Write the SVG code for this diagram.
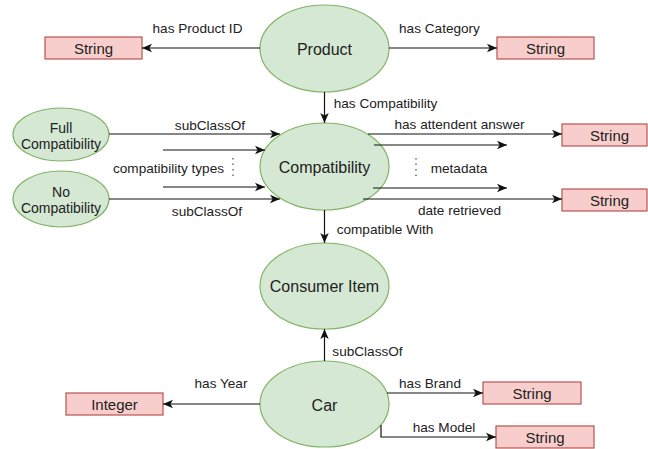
<svg xmlns="http://www.w3.org/2000/svg" width="648" height="449" viewBox="0 0 648 449">
  <style>
    .cls { fill: #d5e8d4; stroke: #82b366; stroke-width: 1.2; }
    .lit { fill: #f8cecc; stroke: #b85450; stroke-width: 1.2; }
    text { font-family: "Liberation Sans", Arial, sans-serif; fill: #222; text-anchor: middle; dominant-baseline: central; }
    .big { font-size: 16px; }
    .box { font-size: 15px; }
    .small { font-size: 14px; }
    .lbl { font-size: 13.6px; }
    .edge { fill: none; stroke: #111; stroke-width: 1.2; }
    .dots { fill: none; stroke: #555; stroke-width: 1.3; stroke-dasharray: 1.5 4; }
  </style>
  <defs>
    <marker id="arrow" markerUnits="userSpaceOnUse" markerWidth="12" markerHeight="10" refX="10" refY="5" orient="auto">
      <path d="M0,0.8 L10,5 L0,9.2 L2.6,5 Z" fill="#111"/>
    </marker>
  </defs>

  <rect width="648" height="449" fill="#fff"/>

  <!-- class nodes -->
  <g id="product">
    <ellipse class="cls" cx="324.5" cy="48.5" rx="64.5" ry="43.5"/>
    <text class="big" x="324.5" y="49">Product</text>
  </g>
  <g id="compatibility">
    <ellipse class="cls" cx="324.5" cy="166.5" rx="64.5" ry="43.5"/>
    <text class="big" x="324.5" y="167">Compatibility</text>
  </g>
  <g id="consumer-item">
    <ellipse class="cls" cx="324.5" cy="286" rx="64.5" ry="43"/>
    <text class="big" x="324.5" y="286">Consumer Item</text>
  </g>
  <g id="car">
    <ellipse class="cls" cx="324.5" cy="404" rx="64.5" ry="43"/>
    <text class="big" x="324.5" y="405">Car</text>
  </g>
  <g id="full-compatibility">
    <ellipse class="cls" cx="61" cy="134.5" rx="48" ry="26.5"/>
    <text class="small" x="61" y="128">Full</text>
    <text class="small" x="61" y="144">Compatibility</text>
  </g>
  <g id="no-compatibility">
    <ellipse class="cls" cx="61" cy="199" rx="48" ry="28"/>
    <text class="small" x="61" y="192">No</text>
    <text class="small" x="61" y="208">Compatibility</text>
  </g>

  <!-- literal nodes -->
  <g id="product-id-string">
    <rect class="lit" x="45" y="37" width="97" height="22"/>
    <text class="box" x="93.5" y="48.5">String</text>
  </g>
  <g id="category-string">
    <rect class="lit" x="497" y="37" width="97" height="22"/>
    <text class="box" x="545.5" y="48.5">String</text>
  </g>
  <g id="answer-string">
    <rect class="lit" x="562" y="124" width="85" height="22"/>
    <text class="box" x="609.5" y="135">String</text>
  </g>
  <g id="date-string">
    <rect class="lit" x="562" y="189" width="85" height="22"/>
    <text class="box" x="609.5" y="200">String</text>
  </g>
  <g id="year-integer">
    <rect class="lit" x="66" y="393" width="97" height="22"/>
    <text class="box" x="114.5" y="404">Integer</text>
  </g>
  <g id="brand-string">
    <rect class="lit" x="483" y="382" width="98" height="22"/>
    <text class="box" x="532" y="393">String</text>
  </g>
  <g id="model-string">
    <rect class="lit" x="496" y="426" width="98" height="22"/>
    <text class="box" x="545" y="437">String</text>
  </g>

  <!-- connectors -->
  <g id="connectors">
    <path class="edge" d="M260,48 L142,48" marker-end="url(#arrow)"/>
    <path class="edge" d="M389,48 L497,48" marker-end="url(#arrow)"/>
    <path class="edge" d="M324.5,92 L324.5,123" marker-end="url(#arrow)"/>

    <path class="edge" d="M109,134 L280,134" marker-end="url(#arrow)"/>
    <path class="edge" d="M163,150 L265,150" marker-end="url(#arrow)"/>
    <path class="edge" d="M163,187 L265,187" marker-end="url(#arrow)"/>
    <path class="edge" d="M109,199 L280,199" marker-end="url(#arrow)"/>
    <path class="dots" d="M233,158 L233,177"/>

    <path class="edge" d="M368,134 L562,134" marker-end="url(#arrow)"/>
    <path class="edge" d="M374,145 L507,145" marker-end="url(#arrow)"/>
    <path class="edge" d="M373,188 L507,188" marker-end="url(#arrow)"/>
    <path class="edge" d="M363,199 L562,199" marker-end="url(#arrow)"/>
    <path class="dots" d="M416,158 L416,177"/>

    <path class="edge" d="M324.5,210 L324.5,243" marker-end="url(#arrow)"/>
    <path class="edge" d="M324.5,361 L324.5,329" marker-end="url(#arrow)"/>

    <path class="edge" d="M260,404 L163,404" marker-end="url(#arrow)"/>
    <path class="edge" d="M387,393 L483,393" marker-end="url(#arrow)"/>
    <path class="edge" d="M381,425 L381,437 L496,437" marker-end="url(#arrow)"/>

    <!-- edge labels -->
    <text class="lbl" x="197.5" y="28">has Product ID</text>
    <text class="lbl" x="439.5" y="28">has Category</text>
    <text class="lbl" x="385.5" y="103">has Compatibility</text>
    <text class="lbl" x="210" y="125">subClassOf</text>
    <text class="lbl" x="168.5" y="168">compatibility types</text>
    <text class="lbl" x="207" y="211">subClassOf</text>
    <text class="lbl" x="459.5" y="124">has attendent answer</text>
    <text class="lbl" x="459" y="168">metadata</text>
    <text class="lbl" x="459.5" y="210">date retrieved</text>
    <text class="lbl" x="385" y="229">compatible With</text>
    <text class="lbl" x="367.5" y="351">subClassOf</text>
    <text class="lbl" x="221" y="383">has Year</text>
    <text class="lbl" x="430" y="383">has Brand</text>
    <text class="lbl" x="444" y="427">has Model</text>
  </g>
</svg>
